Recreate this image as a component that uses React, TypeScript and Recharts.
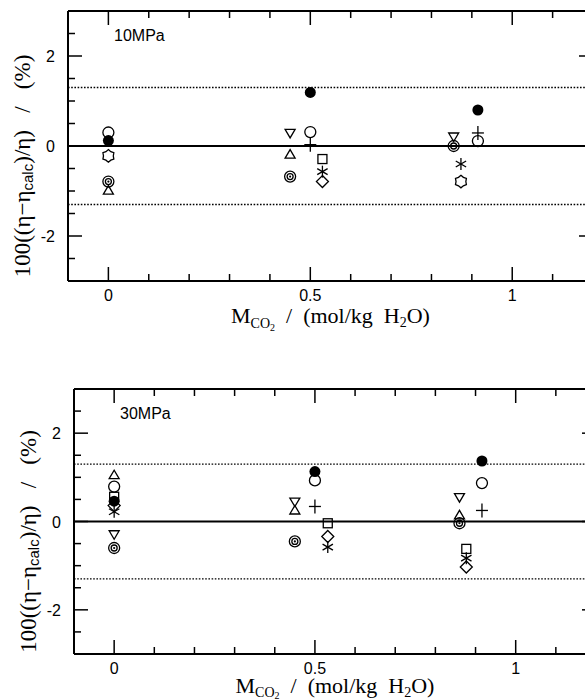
import React from 'react';
import { ScatterChart, Scatter, XAxis, YAxis, ReferenceLine } from 'recharts';

const xTicks = [0, 0.1, 0.2, 0.3, 0.4, 0.5, 0.6, 0.7, 0.8, 0.9, 1, 1.1];
const xMajor = [0, 0.5, 1];
const yTicks = [-2.5, -2, -1.5, -1, -0.5, 0, 0.5, 1, 1.5, 2, 2.5];
const yMajor = [-2, 0, 2];
const bandLimits = [-1.3, 1.3];

// 10 MPa: [molality, deviation %]
const filledCircle10 = [[0, 0.12], [0.5, 1.19], [0.915, 0.8]];
const openCircle10 = [[0, 0.3], [0.5, 0.31], [0.915, 0.11]];
const plus10 = [[0.5, 0.03], [0.915, 0.29]];
const downTriangle10 = [[0.45, 0.28], [0.855, 0.2]];
const upTriangle10 = [[0, -0.98], [0.45, -0.18]];
const bullseye10 = [[0, -0.79], [0.45, -0.68], [0.855, 0.0]];
const square10 = [[0.53, -0.29]];
const asterisk10 = [[0.53, -0.57], [0.873, -0.4]];
const diamond10 = [[0.53, -0.79]];
const hexagram10 = [[0, -0.22], [0.873, -0.79]];

// 30 MPa
const filledCircle30 = [[0, 0.46], [0.5, 1.13], [0.916, 1.37]];
const openCircle30 = [[0, 0.79], [0.5, 0.93], [0.916, 0.87]];
const plus30 = [[0.5, 0.34], [0.916, 0.25]];
const downTriangle30 = [[0, -0.3], [0.45, 0.44], [0.86, 0.54]];
const upTriangle30 = [[0, 1.06], [0.45, 0.26], [0.86, 0.15]];
const bullseye30 = [[0, -0.6], [0.45, -0.45], [0.86, -0.04]];
const square30 = [[0, 0.56], [0.532, -0.04], [0.877, -0.62]];
const asterisk30 = [[0, 0.22], [0.532, -0.58], [0.877, -0.83]];
const diamond30 = [[0, 0.36], [0.532, -0.34], [0.877, -1.03]];

const SANS = '"Liberation Sans", Arial, sans-serif';
const SERIF = '"Liberation Serif", "Times New Roman", serif';

const toPoints = (arr: number[][]) => arr.map(([m, d]) => ({ m, d }));

const Marker = ({ kind, cx, cy }: { kind: string; cx: number; cy: number }) => {
  const s = { stroke: '#000', strokeWidth: 1.3, fill: 'none' };
  switch (kind) {
    case 'filledCircle':
      return <circle cx={cx} cy={cy} r={5.5} fill="#000" />;
    case 'openCircle':
      return <circle cx={cx} cy={cy} r={5.5} {...s} />;
    case 'plus':
      return (
        <g {...s}>
          <line x1={cx - 6} y1={cy} x2={cx + 6} y2={cy} />
          <line x1={cx} y1={cy - 7} x2={cx} y2={cy + 7} />
        </g>
      );
    case 'downTriangle':
      return <polygon points={`${cx - 5},${cy - 4} ${cx + 5},${cy - 4} ${cx},${cy + 4.5}`} {...s} />;
    case 'upTriangle':
      return <polygon points={`${cx - 5},${cy + 4} ${cx + 5},${cy + 4} ${cx},${cy - 4.5}`} {...s} />;
    case 'bullseye':
      return (
        <g>
          <circle cx={cx} cy={cy} r={5.5} {...s} />
          <circle cx={cx} cy={cy} r={3} {...s} />
          <circle cx={cx} cy={cy} r={1.1} fill="#000" />
        </g>
      );
    case 'square':
      return <rect x={cx - 4.5} y={cy - 4.5} width={9} height={9} {...s} />;
    case 'asterisk': {
      const a = 6;
      const dx = a * Math.cos(Math.PI / 6);
      const dy = a * Math.sin(Math.PI / 6);
      return (
        <g {...s}>
          <line x1={cx} y1={cy - a} x2={cx} y2={cy + a} />
          <line x1={cx - dx} y1={cy - dy} x2={cx + dx} y2={cy + dy} />
          <line x1={cx - dx} y1={cy + dy} x2={cx + dx} y2={cy - dy} />
        </g>
      );
    }
    case 'diamond':
      return <polygon points={`${cx},${cy - 6} ${cx + 6},${cy} ${cx},${cy + 6} ${cx - 6},${cy}`} {...s} />;
    case 'hexagram': {
      const pts: string[] = [];
      for (let i = 0; i < 12; i++) {
        const r = i % 2 === 0 ? 6.3 : 4.9;
        const ang = (Math.PI / 6) * i - Math.PI / 2;
        pts.push(`${cx + r * Math.cos(ang)},${cy + r * Math.sin(ang)}`);
      }
      return <polygon points={pts.join(' ')} {...s} />;
    }
    default:
      return null;
  }
};

const BottomTick = (props: any) => {
  const { x, y, payload } = props;
  const major = xMajor.includes(payload.value);
  return (
    <g>
      <line x1={x} y1={y} x2={x} y2={y - (major ? 14 : 7)} stroke="#000" strokeWidth={1.5} />
      {major && (
        <text x={x} y={y + 20} textAnchor="middle" fontSize={16} fontFamily={SANS} fill="#000">
          {payload.value}
        </text>
      )}
    </g>
  );
};

const TopTick = (props: any) => {
  const { x, y, payload } = props;
  const major = xMajor.includes(payload.value);
  return <line x1={x} y1={y} x2={x} y2={y + (major ? 14 : 7)} stroke="#000" strokeWidth={1.5} />;
};

const LeftTick = (props: any) => {
  const { x, y, payload } = props;
  const major = yMajor.includes(payload.value);
  return (
    <g>
      <line x1={x} y1={y} x2={x + (major ? 14 : 7)} y2={y} stroke="#000" strokeWidth={1.5} />
      {major && (
        <text x={x - 13} y={y + 6} textAnchor="end" fontSize={16} fontFamily={SANS} fill="#000">
          {payload.value < 0 ? `-${Math.abs(payload.value)}` : payload.value}
        </text>
      )}
    </g>
  );
};

const RightTick = (props: any) => {
  const { x, y, payload } = props;
  const major = yMajor.includes(payload.value);
  return <line x1={x} y1={y} x2={x - (major ? 14 : 7)} y2={y} stroke="#000" strokeWidth={1.5} />;
};

const makeYLabel = (title: string, plotLeft: number, plotTop: number, plotBottom: number) => () => {
  const cx = plotLeft - 46;
  const cy = (plotTop + plotBottom) / 2 + 20;
  return (
    <g>
      <text
        x={cx}
        y={cy}
        transform={`rotate(-90 ${cx} ${cy})`}
        textAnchor="middle"
        dominantBaseline="central"
        fontSize={23}
        fontFamily={SERIF}
        fill="#000"
        style={{ whiteSpace: 'pre' }}
      >
        100((η−η
        <tspan fontSize={15} fontFamily={SANS} dy={5}>calc</tspan>
        <tspan dy={-5}>)/η)   /   (%)</tspan>
      </text>
      <text x={plotLeft + 46} y={plotTop + 30} fontSize={16} fontFamily={SANS} fill="#000">
        {title}
      </text>
    </g>
  );
};

const makeXLabel = (offset: number, sub1: number, sub2: number) => (props: any) => {
  const { viewBox } = props;
  const cx = viewBox.x + viewBox.width / 2;
  const y = viewBox.y + offset;
  return (
    <text x={cx} y={y} textAnchor="middle" fontSize={22} fontFamily={SERIF} fill="#000" style={{ whiteSpace: 'pre' }}>
      M
      <tspan fontSize={14} dy={sub1}>CO</tspan>
      <tspan fontSize={10} dy={sub2}>2</tspan>
      <tspan dy={-(sub1 + sub2)}>  /  (mol/kg  H</tspan>
      <tspan fontSize={14} dy={4}>2</tspan>
      <tspan dy={-4}>O)</tspan>
    </text>
  );
};

const axisLine = { stroke: '#000', strokeWidth: 2 };

const Panel = ({ title, series, top, width, height, yAxisWidth, bottomHeight, xLabelOffset, sub1, sub2 }: any) => {
  const plotTop = top + 11;
  const plotBottom = top + height - bottomHeight;
  return (
    <div style={{ position: 'absolute', left: 0, top }}>
      <ScatterChart width={width} height={height} margin={{ top: 10, right: 0, bottom: 0, left: 0 }}>
        <XAxis
          xAxisId={0}
          type="number"
          dataKey="m"
          domain={[-0.1, 1.2]}
          ticks={xTicks}
          interval={0}
          allowDataOverflow
          height={bottomHeight}
          tickSize={0}
          tickMargin={0}
          tickLine={false}
          axisLine={axisLine}
          tick={<BottomTick />}
          label={makeXLabel(xLabelOffset, sub1, sub2)}
        />
        <XAxis
          xAxisId="top"
          orientation="top"
          type="number"
          dataKey="m"
          domain={[-0.1, 1.2]}
          ticks={xTicks}
          interval={0}
          allowDataOverflow
          height={1}
          tickSize={0}
          tickMargin={0}
          tickLine={false}
          axisLine={axisLine}
          tick={<TopTick />}
        />
        <YAxis
          yAxisId={0}
          type="number"
          dataKey="d"
          domain={[-3, 3]}
          ticks={yTicks}
          interval={0}
          allowDataOverflow
          width={yAxisWidth}
          tickSize={0}
          tickMargin={0}
          tickLine={false}
          axisLine={axisLine}
          tick={<LeftTick />}
          label={makeYLabel(title, yAxisWidth, plotTop - top, plotBottom - top)}
        />
        <YAxis
          yAxisId="right"
          orientation="right"
          type="number"
          dataKey="d"
          domain={[-3, 3]}
          ticks={yTicks}
          interval={0}
          allowDataOverflow
          width={20}
          tickSize={0}
          tickMargin={0}
          tickLine={false}
          axisLine={axisLine}
          tick={<RightTick />}
        />
        {bandLimits.map((v) => (
          <ReferenceLine key={v} y={v} stroke="#000" strokeWidth={1.4} strokeDasharray="1.6 1.6" />
        ))}
        <ReferenceLine y={0} stroke="#000" strokeWidth={1.8} />
        {series.map((s: any) => (
          <Scatter
            key={s.kind}
            data={toPoints(s.data)}
            isAnimationActive={false}
            shape={(p: any) => <Marker kind={s.kind} cx={p.cx} cy={p.cy} />}
          />
        ))}
      </ScatterChart>
    </div>
  );
};

const series10 = [
  { kind: 'filledCircle', data: filledCircle10 },
  { kind: 'openCircle', data: openCircle10 },
  { kind: 'plus', data: plus10 },
  { kind: 'downTriangle', data: downTriangle10 },
  { kind: 'upTriangle', data: upTriangle10 },
  { kind: 'bullseye', data: bullseye10 },
  { kind: 'square', data: square10 },
  { kind: 'asterisk', data: asterisk10 },
  { kind: 'diamond', data: diamond10 },
  { kind: 'hexagram', data: hexagram10 },
];

const series30 = [
  { kind: 'filledCircle', data: filledCircle30 },
  { kind: 'openCircle', data: openCircle30 },
  { kind: 'plus', data: plus30 },
  { kind: 'downTriangle', data: downTriangle30 },
  { kind: 'upTriangle', data: upTriangle30 },
  { kind: 'bullseye', data: bullseye30 },
  { kind: 'square', data: square30 },
  { kind: 'asterisk', data: asterisk30 },
  { kind: 'diamond', data: diamond30 },
];

export default function App() {
  return (
    <div style={{ position: 'absolute', left: 0, top: 0, width: 585, height: 700, overflow: 'hidden', background: '#fff' }}>
      <Panel title="10MPa" series={series10} top={0} width={613} height={340} yAxisWidth={68} bottomHeight={59} xLabelOffset={42} sub1={5} sub2={3} />
      <Panel title="30MPa" series={series30} top={378} width={616} height={322} yAxisWidth={74} bottomHeight={46} xLabelOffset={39} sub1={4} sub2={1.5} />
    </div>
  );
}
